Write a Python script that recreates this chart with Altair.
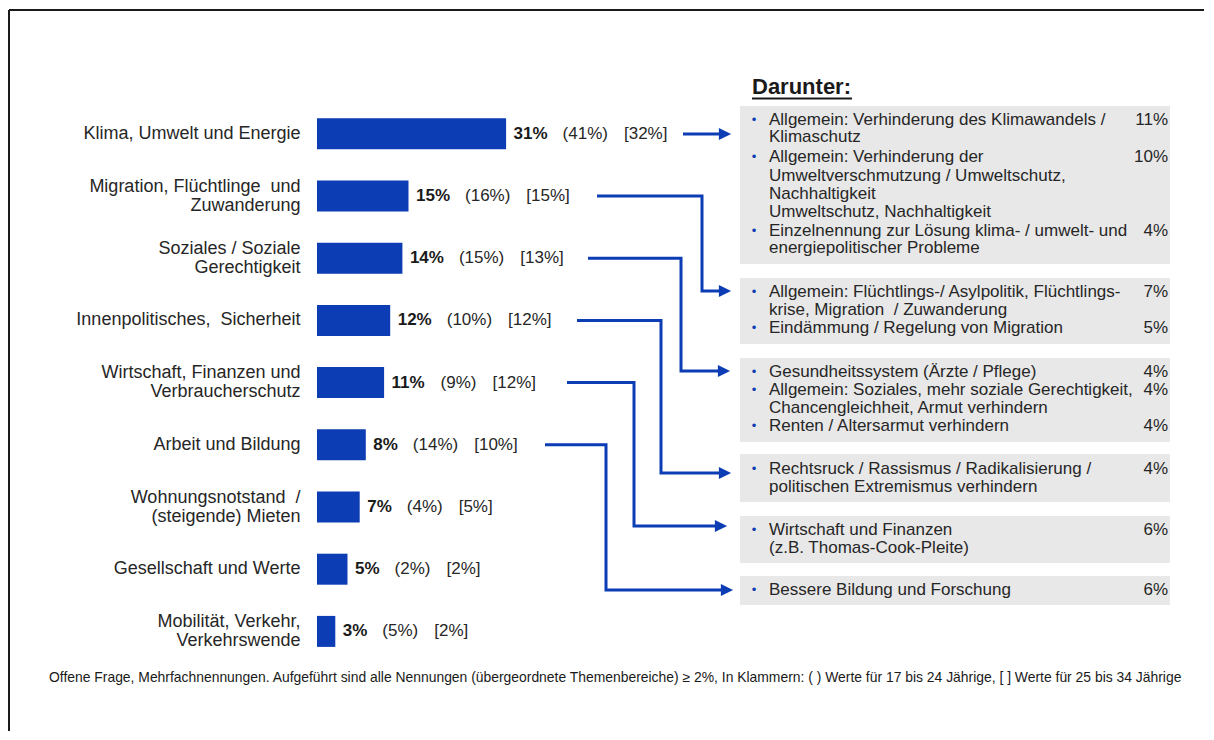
import altair as alt
import pandas as pd

# ---------------- data ----------------
CATEGORIES = [
    "Klima, Umwelt und Energie",
    "Migration, Flüchtlinge\u00a0 und\nZuwanderung",
    "Soziales / Soziale\nGerechtigkeit",
    "Innenpolitisches,\u00a0 Sicherheit",
    "Wirtschaft, Finanzen und\nVerbraucherschutz",
    "Arbeit und Bildung",
    "Wohnungsnotstand\u00a0 /\n(steigende) Mieten",
    "Gesellschaft und Werte",
    "Mobilität, Verkehr,\nVerkehrswende",
]
TOTAL = [31, 15, 14, 12, 11, 8, 7, 5, 3]
AGE_17_24 = [41, 16, 15, 10, 9, 14, 4, 2, 5]
AGE_25_34 = [32, 15, 13, 12, 12, 10, 5, 2, 2]

SUB_ITEMS = [
    ["Allgemein: Verhinderung des Klimawandels /\nKlimaschutz",
     "Allgemein: Verhinderung der\nUmweltverschmutzung / Umweltschutz,\nNachhaltigkeit\nUmweltschutz, Nachhaltigkeit",
     "Einzelnennung zur Lösung klima- / umwelt- und\nenergiepolitischer Probleme"],
    ["Allgemein: Flüchtlings-/ Asylpolitik, Flüchtlings-\nkrise, Migration\u00a0 / Zuwanderung",
     "Eindämmung / Regelung von Migration"],
    ["Gesundheitssystem (Ärzte / Pflege)",
     "Allgemein: Soziales, mehr soziale Gerechtigkeit,\nChancengleichheit, Armut verhindern",
     "Renten / Altersarmut verhindern"],
    ["Rechtsruck / Rassismus / Radikalisierung /\npolitischen Extremismus verhindern"],
    ["Wirtschaft und Finanzen\n(z.B. Thomas-Cook-Pleite)"],
    ["Bessere Bildung und Forschung"],
]
SUB_VALUES = [[11, 10, 4], [7, 5], [4, 4, 4], [4], [6], [6]]
SUB_SOURCE = [0, 1, 2, 3, 4, 5]

HEADER = "Darunter:"
FOOTNOTE = ("Offene Frage, Mehrfachnennungen. Aufgeführt sind alle Nennungen (übergeordnete "
            "Themenbereiche) \u2265 2%, In Klammern: ( ) Werte für 17 bis 24 Jährige, [ ] Werte für 25 bis 34 Jährige")

# ---------------- layout (page pixels) ----------------
W, H = 1196, 722
BAR_X0 = 317.0
PX_PER_PCT = 6.1
ROW0 = 132.8
ROW_STEP = 62.2
BAR_H = 31.0
CAT_LH = 19.0

BLUE = "#0d3db4"
GRAY_BOX = "#e8e8e8"
TXT = "#262626"
FONT = "Liberation Sans"


def X(px):
    return (px - BAR_X0) / PX_PER_PCT


def Y(py):
    return (py - ROW0) / ROW_STEP


XS = alt.Scale(domain=[X(8), X(8 + W)], nice=False, zero=False)
YS = alt.Scale(domain=[Y(8), Y(8 + H)], nice=False, zero=False, reverse=True)


def ex(f="x"):
    return alt.X(f"{f}:Q", scale=XS, axis=None)


def ey(f="y"):
    return alt.Y(f"{f}:Q", scale=YS, axis=None)


# boxes of the right panel (top, bottom) and line centres
BOX_X = (740, 1170)
BOX_TB = [(105, 263), (277, 343), (357, 441), (453, 501), (515, 562), (575, 604)]
LINE_Y = [
    [119, 136, 156, 175, 193, 211, 230, 247],
    [291, 309, 327],
    [371, 388.5, 406.5, 425],
    [468, 486],
    [529, 547],
    [589],
]

# connectors: start x, vertical x, arrow tip x, end y (page px)
CONN = [
    (683, None, 731, 133),
    (597, 702, 731, 290),
    (588, 681, 730, 370),
    (577, 661, 731, 472),
    (567, 634, 727, 525),
    (545, 606, 733, 589),
]

# ---------------- tables ----------------
n = len(CATEGORIES)
bars = pd.DataFrame({
    "cat": CATEGORIES,
    "row": list(range(n)),
    "value": TOTAL,
})
bars["y0"] = bars["row"] - (BAR_H / 2) / ROW_STEP
bars["y1"] = bars["row"] + (BAR_H / 2) / ROW_STEP
bars["zero"] = 0.0
bars["lx"] = X(300.5)
# first-line position so that a multi-line label block is centred on its bar
bars["ly"] = [r - (c.count("\n") * CAT_LH / 2) / ROW_STEP
              for r, c in zip(bars["row"], CATEGORIES)]


def w_bold(v):
    return 17 * (0.556 * len(str(v)) + 0.889)


def w_paren(v):
    return 17 * (0.666 + 0.556 * len(str(v)) + 0.889)


bars["t_bold"] = [f"{v}%" for v in TOTAL]
bars["t_par"] = [f"({v}%)" for v in AGE_17_24]
bars["t_brk"] = [f"[{v}%]" for v in AGE_25_34]
bx, px_, kx = [], [], []
for v, a in zip(TOTAL, AGE_17_24):
    end = BAR_X0 + PX_PER_PCT * v
    b = end + 7.5
    p = b + w_bold(v) + 15
    k = p + w_paren(a) + 16
    bx.append(X(b)); px_.append(X(p)); kx.append(X(k))
bars["xb"], bars["xp"], bars["xk"] = bx, px_, kx

# boxes
boxes = pd.DataFrame({
    "x0": [X(BOX_X[0])] * len(BOX_TB),
    "x1": [X(BOX_X[1])] * len(BOX_TB),
    "y0": [Y(t) for t, b in BOX_TB],
    "y1": [Y(b) for t, b in BOX_TB],
})

# sub item lines
lines, bullets, pcts = [], [], []
for bi, items in enumerate(SUB_ITEMS):
    k = 0
    for it, val in zip(items, SUB_VALUES[bi]):
        parts = it.split("\n")
        for j, p in enumerate(parts):
            yy = Y(LINE_Y[bi][k])
            lines.append({"x": X(769), "y": yy, "t": p})
            if j == 0:
                bullets.append({"x": X(754), "y": yy, "t": "\u2022"})
                pcts.append({"x": X(1168), "y": yy, "t": f"{val}%"})
            k += 1
lines = pd.DataFrame(lines)
bullets = pd.DataFrame(bullets)
pcts = pd.DataFrame(pcts)

# connectors
cpts, heads = [], []
for ci, (sx, vx, tip, ey_) in enumerate(CONN):
    src = SUB_SOURCE[ci]
    sy = ROW0 + ROW_STEP * src
    if vx is None:
        pts = [(sx, ey_), (tip - 8, ey_)]
    else:
        pts = [(sx, sy), (vx, sy), (vx, ey_), (tip - 8, ey_)]
    for oi, (a, b) in enumerate(pts):
        cpts.append({"c": ci, "o": oi, "x": X(a), "y": Y(b)})
    heads.append({"x": X(tip - 6), "y": Y(ey_)})
cpts = pd.DataFrame(cpts)
heads = pd.DataFrame(heads)

# ---------------- layers ----------------
frame = alt.Chart(pd.DataFrame({
    "x": [X(9), X(9)], "x2": [X(8 + W), X(9)],
    "y": [Y(9), Y(9)], "y2": [Y(9), Y(8 + H)],
})).mark_rule(color="#1a1a1a", strokeWidth=2).encode(
    x=ex("x"), x2="x2:Q", y=ey("y"), y2="y2:Q")

bar_layer = alt.Chart(bars).mark_rect(color=BLUE).encode(
    x=ex("zero"), x2="value:Q", y=ey("y0"), y2="y1:Q")

cat_layer = alt.Chart(bars).mark_text(
    align="right", baseline="middle", fontSize=18, font=FONT, color=TXT,
    lineBreak="\n", lineHeight=CAT_LH).encode(x=ex("lx"), y=ey("ly"), text="cat:N")

bold_layer = alt.Chart(bars).mark_text(
    align="left", baseline="middle", fontSize=17, font=FONT, fontWeight="bold",
    color="#1a1a1a").encode(x=ex("xb"), y=ey("row"), text="t_bold:N")
par_layer = alt.Chart(bars).mark_text(
    align="left", baseline="middle", fontSize=17, font=FONT, color=TXT).encode(
    x=ex("xp"), y=ey("row"), text="t_par:N")
brk_layer = alt.Chart(bars).mark_text(
    align="left", baseline="middle", fontSize=17, font=FONT, color=TXT).encode(
    x=ex("xk"), y=ey("row"), text="t_brk:N")

box_layer = alt.Chart(boxes).mark_rect(color=GRAY_BOX).encode(
    x=ex("x0"), x2="x1:Q", y=ey("y0"), y2="y1:Q")

line_layer = alt.Chart(lines).mark_text(
    align="left", baseline="middle", fontSize=17, font=FONT, color=TXT).encode(
    x=ex("x"), y=ey("y"), text="t:N")
bullet_layer = alt.Chart(bullets).mark_text(
    align="center", baseline="middle", fontSize=13, font=FONT, color=BLUE).encode(
    x=ex("x"), y=ey("y"), text="t:N")
pct_layer = alt.Chart(pcts).mark_text(
    align="right", baseline="middle", fontSize=17, font=FONT, color=TXT).encode(
    x=ex("x"), y=ey("y"), text="t:N")

conn_layer = alt.Chart(cpts).mark_line(
    color=BLUE, strokeWidth=3, strokeJoin="miter", strokeCap="butt").encode(
    x=ex("x"), y=ey("y"), detail="c:N", order="o:Q")
head_layer = alt.Chart(heads).mark_point(
    shape="M-1,-1L1,0L-1,1Z", filled=True, size=150, color=BLUE, opacity=1,
    strokeWidth=0).encode(x=ex("x"), y=ey("y"))

hdr = pd.DataFrame({"x": [X(752)], "y": [Y(86)], "t": [HEADER],
                    "ux": [X(752)], "ux2": [X(852)], "uy": [Y(97.5)]})
hdr_layer = alt.Chart(hdr).mark_text(
    align="left", baseline="middle", fontSize=22, font=FONT, fontWeight="bold",
    color="#1a1a1a").encode(x=ex("x"), y=ey("y"), text="t:N")
uline_layer = alt.Chart(hdr).mark_rule(color="#1a1a1a", strokeWidth=1.8).encode(
    x=ex("ux"), x2="ux2:Q", y=ey("uy"))

foot = pd.DataFrame({"x": [X(49)], "y": [Y(677)], "t": [FOOTNOTE]})
foot_layer = alt.Chart(foot).mark_text(
    align="left", baseline="middle", fontSize=13.9, font=FONT, color="#1a1a1a").encode(
    x=ex("x"), y=ey("y"), text="t:N")

chart = alt.layer(
    frame, box_layer, bar_layer, cat_layer, bold_layer, par_layer, brk_layer,
    conn_layer, head_layer, line_layer, bullet_layer, pct_layer,
    hdr_layer, uline_layer, foot_layer,
).properties(width=W, height=H, padding=0, background="white").configure_view(stroke=None)

chart.save("out.html", embed_options={"renderer": "svg", "actions": False})
